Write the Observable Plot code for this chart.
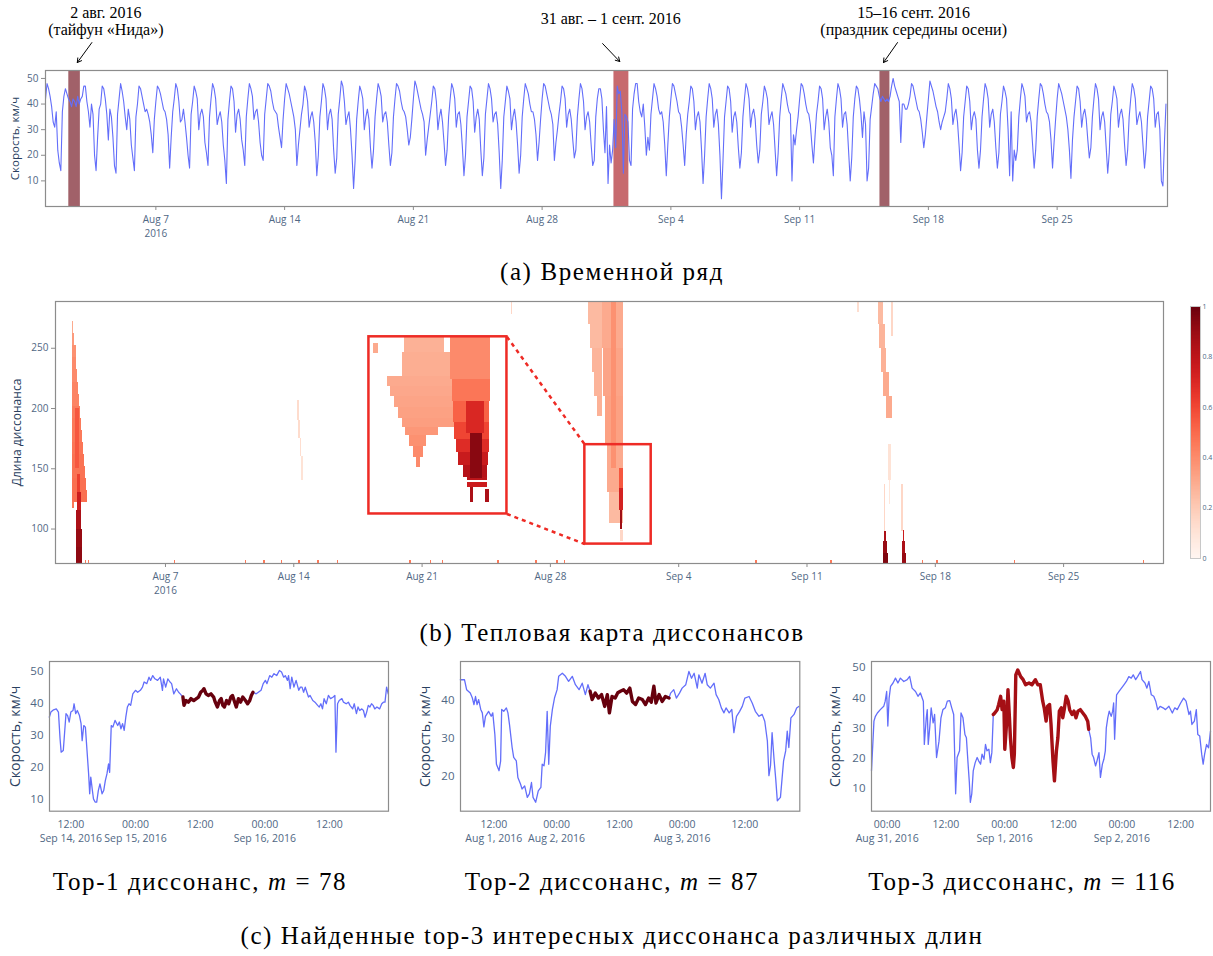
<!DOCTYPE html>
<html><head><meta charset="utf-8">
<script src="https://cdn.jsdelivr.net/npm/d3@7"></script>
<script src="https://cdn.jsdelivr.net/npm/@observablehq/plot@0.6"></script>
<style>
body{margin:0;background:#fff;}
#fig{position:relative;width:1213px;height:956px;overflow:hidden;font-family:"Open Sans",sans-serif;background:#fff;}
.cap{position:absolute;font-family:"Liberation Serif",serif;font-size:25px;letter-spacing:1.6px;color:#000;white-space:nowrap;transform:translate(-50%,-50%);}
</style></head>
<body><div id="fig"></div>
<script>
// ---------------- DATA ----------------
// Time series (a): average speed, km/h, every 2 hours (00,02,...,22h), Aug 1 – Sep 30 2016
const seriesStart = "2016-08-01T00:00Z";
const stepHours = 2;
const speedByDay = [
[42,48,46,43,39,33,31,37,22,17,14,37],[43,46,44,42,41,39,42,41,39,43,40,42],[43,47,47,41,37,31,40,36,20,14,27,38],
[40,47,46,42,36,26,38,35,27,16,13,36],[42,48,45,41,35,30,38,34,24,19,14,35],[40,47,46,43,40,37,38,36,33,28,21,34],
[41,47,46,44,41,38,37,34,28,15,27,37],[42,48,46,41,33,34,38,33,27,20,15,36],[41,47,45,42,30,36,38,35,25,21,16,35],
[42,48,46,42,32,35,37,33,24,18,9,34],[41,47,46,41,29,36,38,34,26,22,16,35],[42,48,46,43,34,37,38,33,25,20,18,36],
[42,48,47,45,41,38,37,36,31,27,23,34],[42,48,46,44,41,38,35,30,16,24,30,36],[40,47,45,41,31,35,37,33,25,12,20,35],
[41,48,46,42,30,36,38,34,22,13,19,36],[42,49,47,41,32,35,37,30,20,7,18,34],[41,47,45,42,30,35,38,34,23,15,22,35],
[42,48,46,43,33,36,37,33,24,16,21,35],[42,48,47,45,41,38,37,35,30,24,27,34],[42,49,47,44,41,38,36,33,20,26,31,36],
[41,47,46,41,30,35,38,33,25,16,22,35],[42,48,46,42,31,36,37,32,23,12,20,35],[41,47,46,41,29,35,38,34,22,12,19,36],
[42,48,46,42,33,36,37,32,21,7,18,35],[41,47,45,42,30,35,38,33,24,13,20,35],[42,48,46,44,40,37,37,34,28,18,25,34],
[42,48,47,44,41,38,36,32,18,25,30,36],[41,47,46,42,31,36,38,34,26,19,22,35],[42,48,46,41,30,35,37,33,24,16,18,35],
[42,46,46,42,30,21,39,9,24,17,22,34],
[23,47,44,45,37,13,36,35,33,18,16,38],[44,48,48,41,37,35,40,31,20,27,22,36],[42,48,46,43,38,36,37,33,24,12,24,35],
[42,48,47,44,41,37,36,31,24,16,28,36],[41,47,46,41,30,35,37,33,22,9,20,35],[42,48,46,42,31,36,38,32,20,3,18,35],
[41,47,46,41,29,35,37,33,23,15,21,35],[42,48,46,42,31,36,38,34,24,17,22,36],[41,47,45,42,32,35,37,32,22,12,21,35],
[42,48,46,44,40,37,36,10,28,24,30,35],[42,48,47,44,40,37,36,32,24,17,27,36],[41,47,46,42,30,35,38,33,23,20,12,35],
[42,48,46,42,31,36,37,32,21,10,19,35],[42,47,46,42,36,27,37,32,10,15,34,39],[44,48,47,46,43,41,43,42,41,42,41,43],
[47,50,47,45,43,41,25,40,40,38,38,40],[43,48,47,44,41,38,37,34,29,23,28,35],[42,49,47,45,42,39,37,33,30,33,35,37],
[42,48,46,42,32,36,38,33,24,14,21,35],[41,47,46,41,30,35,37,34,22,15,22,35],[42,48,46,42,31,36,38,33,23,15,21,36],
[41,47,45,42,30,12,37,10,22,18,22,35],[42,48,46,43,33,36,37,33,24,15,22,35],[42,48,47,44,40,37,36,33,26,15,25,34],
[42,48,46,44,41,38,35,30,22,11,26,35],[41,47,46,41,31,36,38,34,26,19,23,35],[42,48,46,42,30,35,37,33,23,13,21,36],
[41,47,45,42,31,36,38,34,24,16,22,35],[42,48,46,42,32,35,37,33,24,15,22,35],[41,47,46,42,31,36,37,30,10,8,25,40]
];
const dateTicks = ["2016-08-07","2016-08-14","2016-08-21","2016-08-28","2016-09-04","2016-09-11","2016-09-18","2016-09-25"];

// Discords
const discordName = ["Top-1","Top-2","Top-3"];
const discordM = [78, 87, 116];
const discordStart = ["2016-09-15T08:48Z","2016-08-02T06:24Z","2016-08-31T21:42Z"];
const discordEnd   = ["2016-09-15T21:48Z","2016-08-02T21:30Z","2016-09-01T17:12Z"];
const discordColor = ["#67000d","#67000d","#a50f15"];

// Annotations above (a)
const annText = ["2 авг. 2016\n(тайфун «Нида»)", "31 авг. – 1 сент. 2016", "15–16 сент. 2016\n(праздник середины осени)"];
const annDay = [3.28, 30.73, 47.2];
const annVal = [72.4, 73.3, 72.4];
const arrowFrom = [[2.52,64],[30.29,63.6],[46.32,64]];
const arrowTo = [[1.73,56.2],[31.22,56.6],[45.56,56.2]];

// Heatmap (b): cells [len1, len2, day1, day2, value], day = days since Aug 1 2016
const streakAug1 = [
[262,272,0.95,1.00,0.30],[252,262,0.95,1.06,0.35],[242,252,0.95,1.12,0.38],[232,242,0.95,1.17,0.40],
[222,232,0.95,1.22,0.40],[212,222,0.95,1.27,0.42],[202,212,0.95,1.32,0.42],[192,202,0.95,1.38,0.44],
[182,192,0.95,1.43,0.45],[172,182,0.95,1.49,0.45],[162,172,0.95,1.55,0.46],[152,162,0.95,1.60,0.47],
[142,152,0.95,1.66,0.47],[132,142,0.95,1.71,0.48],[122,132,0.95,1.77,0.48],[117,122,0.95,1.05,0.45],
[150,200,1.10,1.30,0.55],
[130,145,1.20,1.38,0.62],[115,130,1.18,1.40,0.75],[100,115,1.16,1.42,0.85],[85,100,1.15,1.45,0.90],[71.4,85,1.12,1.50,0.92]
];
const streakAug14 = [[190,207,13.20,13.30,0.13],[175,190,13.27,13.37,0.13],[160,175,13.34,13.44,0.12],[140,160,13.42,13.54,0.10],[278,289,24.88,24.96,0.15]];
const streakAug31 = [
[270,289,29.09,29.84,0.25],[250,270,29.20,29.84,0.25],[230,250,29.30,29.84,0.27],[210,230,29.42,29.84,0.27],[193,210,29.55,29.84,0.28],
[250,289,29.84,30.98,0.30],[210,250,29.90,30.98,0.32],[170,210,30.00,30.98,0.33],[130,170,30.10,30.98,0.30],[105,130,30.22,30.98,0.25],
[150,289,30.35,30.62,0.38],
[134,150,30.75,30.98,0.55],[115,134,30.78,30.98,0.72],[100,115,30.80,30.96,0.88],[90,99,30.85,30.98,0.15]
];
const streakSep15 = [
[270,289,44.90,45.20,0.25],[250,270,44.98,45.28,0.27],[230,250,45.05,45.36,0.28],[210,230,45.15,45.48,0.30],[192,210,45.35,45.65,0.30],
[260,289,45.62,45.72,0.15],[280,289,43.78,43.84,0.12],
[140,170,45.45,45.60,0.10],[120,140,45.50,45.58,0.08],[97,137,45.22,45.30,0.15],
[90,98,45.22,45.36,0.85],[80,90,45.20,45.40,0.90],[71.4,80,45.18,45.45,0.95],
[98,137,46.16,46.26,0.15],[90,99,46.24,46.34,0.75],[80,90,46.22,46.38,0.85],[71.4,80,46.20,46.45,0.90]
];
const fleckDays = [1.66,1.82,6.52,10.38,11.39,12.37,13.31,14.35,15.4,19.36,20.5,21.14,24.16,26.25,27.4,27.8,38.25,42.34,47.34,48.13,52.34,59.38];
const fleckVal = 0.45;
// zoomed region and enlarged inset (main coordinates)
const boxDays = [28.88, 32.5], boxLens = [87.5, 170];
const insetDays = [17.1, 24.63], insetLens = [112.5, 259.5];
// inset cells, in coordinates of the zoomed box
const insetCells = [
[162.5,169.5,29.82,30.87,0.28],[151.5,162.5,29.77,31.07,0.29],[162,167,29.01,29.12,0.30],
[147,151.5,29.36,31.07,0.30],[142,147,29.45,31.08,0.31],[137,142,29.55,31.09,0.32],[132,137,29.65,31.10,0.33],
[128,132,29.75,31.12,0.34],[124,128,29.85,30.70,0.36],[119,124,29.95,30.40,0.38],[114,119,30.05,30.30,0.40],[109,114,30.12,30.22,0.40],
[150,169.5,31.02,32.07,0.40],[140,150,31.08,32.06,0.46],[130,140,31.10,32.05,0.52],[122,130,31.13,32.04,0.60],
[116,122,31.17,32.03,0.68],[110,116,31.22,32.02,0.76],[104.4,110,31.35,32.00,0.82],[102.9,104.4,31.47,32.00,0.80],
[125,140,31.45,31.90,0.70],[104,125,31.55,31.87,0.93],
[99.8,102.1,31.47,32.00,0.75],[92.8,99.8,31.55,31.61,0.85],[92.8,99,31.93,32.03,0.85]
];

// Panels (c): [hours since base, speed]
const p1Base = "2016-09-14T00:00Z";
const p1 = [[8.0,35.6],[8.3,37.2],[8.8,37.9],[9.3,38.2],[9.7,37.2],[10.0,28.9],[10.2,24.7],[10.6,25.2],[11.1,36.7],[11.4,36.1],[11.7,34.1],[12.0,37.2],[12.4,37.7],[12.6,39.8],[12.9,36.7],[13.2,37.7],[13.6,36.1],[13.9,33.6],[14.1,28.3],[14.4,33.0],[14.7,32.5],[15.0,25.2],[15.3,17.9],[15.5,11.7],[15.7,16.9],[16.0,12.7],[16.2,10.1],[16.5,9.1],[16.8,9.1],[17.1,12.7],[17.4,14.8],[17.8,11.7],[18.1,12.7],[18.4,15.8],[18.7,17.9],[19.0,21.0],[19.2,18.4],[19.5,33.0],[19.8,32.5],[20.2,34.6],[20.7,33.0],[21.0,34.1],[21.3,32.0],[21.6,33.6],[21.9,31.5],[22.2,35.6],[22.5,38.8],[22.8,39.8],[23.1,39.3],[23.5,42.9],[24.0,44.0],[24.4,43.4],[24.9,44.0],[25.3,45.0],[25.6,46.6],[26.1,46.1],[26.5,48.1],[26.8,47.1],[27.2,48.6],[27.6,47.6],[28.1,47.1],[28.6,48.1],[29.0,44.0],[29.2,47.6],[29.6,45.0],[30.0,47.6],[30.4,46.6],[30.7,46.1],[31.1,42.9],[31.6,44.5],[32.0,43.4],[32.3,42.9],[32.8,41.9],
[33.0,39.3],[33.4,40.8],[33.8,40.3],[34.3,41.4],[34.8,40.8],[35.3,41.4],[35.7,41.9],[36.1,43.4],[36.5,44.0],[36.7,44.5],[37.1,42.9],[37.5,42.4],[38.0,42.9],[38.5,41.9],[38.8,40.3],[39.2,38.8],[39.6,40.8],[39.9,41.4],[40.2,39.3],[40.5,38.8],[40.9,40.8],[41.3,39.8],[41.7,41.9],[42.0,42.4],[42.3,40.8],[42.7,38.8],[43.1,41.4],[43.5,40.3],[43.9,41.9],[44.4,40.8],[44.8,39.8],[45.2,40.8],[45.5,42.4],[45.8,43.4],
[46.4,42.9],[46.8,43.4],[47.3,44.0],[47.7,46.1],[48.1,47.1],[48.4,46.1],[48.9,48.6],[49.3,48.1],[49.7,49.2],[50.2,48.6],[50.7,50.2],[51.1,49.7],[51.5,48.1],[51.8,48.6],[52.2,47.1],[52.4,48.6],[52.7,44.5],[53.0,48.1],[53.4,45.0],[53.8,47.1],[54.3,44.0],[54.6,45.0],[54.9,45.0],[55.2,43.4],[55.5,45.0],[55.8,43.4],[56.1,41.9],[56.4,42.4],[56.9,40.8],[57.3,40.3],[57.8,39.3],[58.1,38.8],[58.4,39.8],[58.7,38.2],[59.0,41.4],[59.4,39.8],[59.8,42.4],[60.2,41.4],[60.7,41.9],[61.0,42.4],[61.2,24.7],[61.5,39.8],[61.8,40.8],[62.3,41.4],[62.6,40.3],[63.1,39.8],[63.5,40.3],[63.8,39.3],[64.3,38.2],[64.6,39.8],[65.0,36.7],[65.3,38.8],[65.6,37.7],[66.0,38.2],[66.3,37.7],[66.6,35.6],[66.9,37.2],[67.2,39.3],[67.5,38.8],[67.8,39.8],[68.1,39.3],[68.4,38.2],[68.8,38.8],[69.3,38.2],[69.7,39.8],[70.0,40.3],[70.3,40.3],[70.6,45.0],[70.9,42.9]];
const p2Base = "2016-08-01T00:00Z";
const p2 = [[5.6,45.4],[6.4,45.4],[6.8,42.8],[7.5,41.9],[7.9,40.6],[8.2,38.9],[8.5,41.0],[8.8,38.9],[9.1,40.2],[9.5,37.6],[9.8,36.7],[10.1,33.0],[10.4,35.8],[11.0,37.1],[11.5,35.8],[11.8,36.7],[12.2,31.0],[12.5,23.2],[13.0,21.5],[13.3,24.0],[13.5,37.6],[13.9,37.1],[14.4,38.0],[14.7,36.7],[15.0,33.6],[15.5,27.6],[15.8,25.0],[16.3,24.1],[16.6,19.7],[17.1,18.0],[17.4,16.7],[17.9,17.5],[18.4,14.5],[18.8,15.4],[19.2,18.4],[19.5,14.5],[20.0,13.2],[20.5,16.2],[21.0,17.1],[21.25,23.2],[21.6,22.8],[21.9,26.3],[22.2,37.1],[22.5,23.2],[22.8,33.2],[23.2,37.6],[23.6,40.6],[24.1,42.8],[24.4,46.3],[25.1,47.1],[25.7,46.3],[26.3,45.0],[27.0,46.3],[27.6,44.1],[28.3,42.8],[28.9,44.5],[29.5,41.5],[30.0,44.1],
[30.4,42.4],[30.8,40.2],[31.4,41.9],[32.0,40.6],[32.6,41.5],[33.2,38.4],[33.7,41.5],[34.1,36.7],[34.6,41.0],[35.2,40.6],[35.7,42.0],[36.2,42.4],[36.8,42.8],[37.4,41.9],[38.0,43.2],[38.5,39.7],[39.1,38.9],[39.7,40.6],[40.4,40.2],[41.0,38.9],[41.6,40.6],[42.1,39.5],[42.6,43.7],[43.0,39.3],[43.6,41.5],[44.2,39.7],[44.8,41.0],[45.5,40.6],
[45.8,41.9],[46.4,42.8],[46.9,40.6],[47.5,41.9],[48.0,43.2],[48.7,44.1],[49.3,47.6],[49.8,45.8],[50.3,47.1],[50.9,43.2],[51.2,46.7],[51.8,44.5],[52.4,47.1],[52.8,44.1],[53.4,43.2],[54.1,44.5],[54.5,41.5],[55.0,40.2],[55.5,38.0],[56.0,36.7],[56.4,38.0],[57.0,36.7],[57.5,37.6],[57.9,31.5],[58.4,35.8],[59.0,37.1],[59.5,38.4],[60.0,40.6],[60.8,41.0],[61.4,39.3],[62.0,37.1],[62.7,35.8],[63.3,36.3],[63.8,34.5],[64.3,29.3],[64.6,20.2],[64.9,22.8],[65.2,31.5],[65.6,24.1],[65.9,19.3],[66.2,13.6],[66.8,14.5],[67.1,19.3],[67.4,24.1],[67.8,26.7],[68.1,31.9],[68.4,27.6],[68.8,35.4],[69.4,36.3],[69.9,38.0],[70.3,38.4]];
const p3Base = "2016-08-31T00:00Z";
const p3 = [[-3.2,15.9],[-3.0,22.5],[-2.7,32.3],[-2.4,33.9],[-2.0,35.0],[-1.4,36.1],[-0.7,37.2],[-0.4,38.9],[-0.1,42.1],[0.14,30.7],[0.4,39.9],[0.7,43.8],[1.2,44.9],[1.7,46.5],[2.2,44.9],[2.7,46.5],[3.4,45.4],[4.1,46.0],[4.6,47.1],[5.1,43.2],[5.8,42.1],[6.3,40.5],[6.8,41.6],[7.4,38.9],[7.6,24.6],[8.0,33.4],[8.2,36.1],[8.4,24.6],[8.7,30.1],[9.0,36.7],[9.4,31.7],[9.7,34.5],[10.1,20.3],[10.6,25.7],[11.0,33.4],[11.4,36.1],[11.9,36.7],[12.3,38.9],[12.8,39.1],[13.2,36.7],[13.6,34.5],[14.0,8.3],[14.3,20.3],[14.8,22.5],[15.1,35.0],[15.5,33.4],[15.9,27.9],[16.2,26.8],[16.5,19.2],[16.8,12.1],[17.0,5.5],[17.3,8.3],[17.6,15.9],[18.0,18.6],[18.4,20.3],[18.7,19.2],[19.1,18.1],[19.4,21.4],[19.8,19.7],[20.1,24.6],[20.4,22.5],[20.8,23.0],[21.1,18.6],[21.4,21.9],[21.7,34.5],
[22.0,35.0],[22.5,36.1],[22.8,37.8],[23.2,40.5],[23.5,36.1],[23.85,38.9],[24.05,23.0],[24.4,31.2],[24.7,42.7],[25.0,33.4],[25.2,26.8],[25.5,20.3],[25.8,17.0],[26.0,21.4],[26.3,47.6],[26.7,49.2],[27.3,47.0],[27.8,46.0],[28.3,44.3],[29.0,44.9],[29.6,44.3],[30.3,46.0],[30.8,44.3],[31.3,44.3],[31.8,38.9],[32.1,36.7],[32.5,32.3],[32.8,37.2],[33.2,37.8],[33.5,31.2],[33.9,19.2],[34.2,12.6],[34.6,22.5],[34.9,26.8],[35.2,35.6],[35.6,36.7],[35.9,33.4],[36.2,36.1],[36.6,40.5],[37.0,38.9],[37.3,36.1],[37.8,34.5],[38.2,35.6],[38.6,33.4],[39.0,35.6],[39.5,36.1],[40.0,35.0],[40.5,33.9],[41.0,32.3],[41.2,29.6],
[41.6,26.8],[41.9,21.4],[42.2,20.3],[42.6,17.5],[42.9,19.2],[43.3,21.9],[43.6,13.7],[44.0,18.1],[44.3,19.7],[44.6,22.5],[44.8,30.1],[45.1,33.4],[45.4,35.6],[45.8,33.9],[46.1,35.6],[46.3,38.3],[46.5,26.3],[46.9,41.0],[47.4,42.1],[47.9,43.2],[48.4,44.3],[48.9,45.4],[49.4,47.0],[49.9,46.5],[50.3,47.6],[50.8,46.0],[51.2,47.0],[51.8,48.7],[52.1,46.0],[52.7,44.9],[53.1,43.2],[53.5,45.4],[54.0,41.0],[54.5,40.5],[54.9,38.9],[55.3,36.1],[55.8,37.2],[56.4,36.7],[56.9,36.1],[57.6,37.2],[58.3,35.0],[58.8,36.7],[59.3,36.1],[60.0,38.3],[60.6,39.9],[61.1,38.9],[61.7,34.5],[62.0,35.6],[62.3,31.2],[62.8,32.3],[63.2,36.1],[63.5,27.9],[63.9,27.4],[64.3,21.4],[64.6,18.1],[64.9,21.4],[65.3,24.6],[65.7,23.5],[66.1,29.0]];

const captionTexts = ["(a) Временной ряд", "(b) Тепловая карта диссонансов", "(c) Найденные top-3 интересных диссонанса различных длин"];

// ---------------- HELPERS ----------------
const HOUR = 3600e3, DAY = 86400e3;
const T0 = new Date(seriesStart).getTime();
const dayDate = d => new Date(T0 + d * DAY);
const fig = document.getElementById("fig");
const TICK = "#506784", TITLE = "#2a3f5f", FRAME = "#8c8c8c", BLUE = "#636efa";
const baseStyle = {background: "transparent", fontFamily: "Open Sans", overflow: "visible"};

function place(node, left, top) {
  const w = document.createElement("div");
  w.style.cssText = `position:absolute;left:${left}px;top:${top}px;`;
  w.appendChild(node);
  fig.appendChild(w);
}
function caption(html, cx, cy) {
  const d = document.createElement("div");
  d.className = "cap"; d.innerHTML = html;
  d.style.left = cx + "px"; d.style.top = cy + "px";
  fig.appendChild(d);
}
const ticksD = dateTicks.map(s => new Date(s + "T00:00Z"));
const fmtDay = d3.utcFormat("%b %-d");
const dayTick = d => +d === +ticksD[0] ? fmtDay(d) + "\n2016" : fmtDay(d);
const yTitle = (text, dx, size) => Plot.text([text], {frameAnchor: "left", textAnchor: "middle", rotate: -90, dx, fontSize: size, fill: TITLE});

// ---------------- (a) TIME SERIES ----------------
const series = speedByDay.flatMap((row, d) => row.map((v, k) => ({t: new Date(T0 + d * DAY + k * stepHours * HOUR), v})));
const bands = discordStart.map((s, i) => ({x1: new Date(s), x2: new Date(discordEnd[i]), c: discordColor[i]}));
const ann = annText.map((t, i) => ({t, x: dayDate(annDay[i]), y: annVal[i]}));
const arrows = arrowFrom.map((f, i) => ({x1: dayDate(f[0]), y1: f[1], x2: dayDate(arrowTo[i][0]), y2: arrowTo[i][1]}));

const topPlot = Plot.plot({
  width: 1213, height: 240, marginLeft: 45, marginRight: 46, marginTop: 70, marginBottom: 34,
  style: baseStyle,
  x: {type: "utc", domain: [dayDate(0), dayDate(61)]},
  y: {domain: [0, 53.1]},
  color: {type: "identity"},
  marks: [
    Plot.rect(bands, {x1: "x1", x2: "x2", fill: "c", fillOpacity: 0.62}),
    Plot.line(series, {x: "t", y: "v", stroke: BLUE, strokeWidth: 1.1}),
    Plot.frame({stroke: FRAME, strokeWidth: 1.2}),
    Plot.axisX({ticks: ticksD, tickFormat: dayTick, tickSize: 4, tickPadding: 3, fontSize: 10, lineHeight: 1.35, fill: TICK, stroke: FRAME, label: null}),
    Plot.axisY({ticks: [10, 20, 30, 40, 50], tickSize: 4, tickPadding: 3, fontSize: 10, fill: TICK, stroke: FRAME, label: null}),
    yTitle("Скорость, км/ч", -30, 11.5),
    Plot.text(ann, {x: "x", y: "y", text: "t", fontFamily: "Liberation Serif", fontSize: 16, fill: "#000", lineHeight: 1.06}),
    Plot.arrow(arrows, {x1: "x1", y1: "y1", x2: "x2", y2: "y2", stroke: "#000", strokeWidth: 1, headLength: 7})
  ]
});
place(topPlot, 0, 0);
caption(captionTexts[0], 612, 272);

// ---------------- (b) HEATMAP ----------------
const mainCells = [...streakAug1, ...streakAug14, ...streakAug31, ...streakSep15];
const flecks = fleckDays.map(d => [71.4, 73.6, d - 0.04, d + 0.04, fleckVal]);
const mapDay = d3.scaleLinear(boxDays, insetDays), mapLen = d3.scaleLinear(boxLens, insetLens);
const insetMapped = insetCells.map(r => [mapLen(r[0]), mapLen(r[1]), mapDay(r[2]), mapDay(r[3]), r[4]]);
const frames = [
  {x1: dayDate(boxDays[0]), x2: dayDate(boxDays[1]), y1: boxLens[0], y2: boxLens[1]},
  {x1: dayDate(insetDays[0]), x2: dayDate(insetDays[1]), y1: insetLens[0], y2: insetLens[1]}
];
const links = [
  {x1: dayDate(insetDays[1]), y1: insetLens[1], x2: dayDate(boxDays[0]), y2: boxLens[1]},
  {x1: dayDate(insetDays[1]), y1: insetLens[0], x2: dayDate(boxDays[0]), y2: boxLens[0]}
];
const cellOpts = {x1: r => dayDate(r[2]), x2: r => dayDate(r[3]), y1: r => r[0], y2: r => r[1], fill: r => r[4], shapeRendering: "crispEdges"};
const RED = "#ee2b25";
const heatPlot = Plot.plot({
  width: 1213, height: 310, marginLeft: 55, marginRight: 50, marginTop: 11, marginBottom: 37,
  style: baseStyle,
  x: {type: "utc", domain: [dayDate(0), dayDate(60.45)]},
  y: {domain: [71.4, 288.8]},
  color: {type: "linear", scheme: "reds", domain: [0, 1]},
  marks: [
    Plot.rect(mainCells, cellOpts),
    Plot.rect(flecks, cellOpts),
    Plot.rect([frames[1]], {x1: "x1", x2: "x2", y1: "y1", y2: "y2", fill: "white"}),
    Plot.rect(insetMapped, cellOpts),
    Plot.link(links, {x1: "x1", y1: "y1", x2: "x2", y2: "y2", stroke: RED, strokeWidth: 2.5, strokeDasharray: "4 4"}),
    Plot.rect(frames, {x1: "x1", x2: "x2", y1: "y1", y2: "y2", fill: "none", stroke: RED, strokeWidth: 2.5}),
    Plot.frame({stroke: FRAME, strokeWidth: 1.2}),
    Plot.axisX({ticks: ticksD, tickFormat: dayTick, tickSize: 4, tickPadding: 3, fontSize: 10, lineHeight: 1.35, fill: TICK, stroke: FRAME, label: null}),
    Plot.axisY({ticks: [100, 150, 200, 250], tickSize: 4, tickPadding: 3, fontSize: 10, fill: TICK, stroke: FRAME, label: null}),
    yTitle("Длина диссонанса", -38, 12)
  ]
});
place(heatPlot, 0, 290);

// colour bar
const cbStops = d3.range(0, 1, 0.005);
const cbPlot = Plot.plot({
  width: 27, height: 264, marginLeft: 4, marginRight: 13, marginTop: 6, marginBottom: 6,
  style: baseStyle,
  x: {domain: [0, 1], axis: null},
  y: {domain: [0, 1]},
  color: {type: "linear", scheme: "reds", domain: [0, 1]},
  marks: [
    Plot.rect(cbStops, {x1: 0, x2: 1, y1: d => d, y2: d => d + 0.0055, fill: d => d, shapeRendering: "crispEdges"}),
    Plot.frame({stroke: "#c8c8c8", strokeWidth: 1}),
    Plot.axisY({anchor: "right", ticks: [0, 0.2, 0.4, 0.6, 0.8, 1], tickFormat: d => String(+d.toFixed(1)), tickSize: 0, tickPadding: 2, fontSize: 7, fill: TICK, label: null})
  ]
});
place(cbPlot, 1186, 300);
caption(captionTexts[1], 612, 633);

// ---------------- (c) PANELS ----------------
const fmtTime = d3.utcFormat("%H:%M"), fmtDate = d3.utcFormat("%b %-d, %Y");
function panel(pts, baseStr, k, hDomain, yDomain, yTicks, tickHours, layout) {
  const base = new Date(baseStr).getTime();
  const data = pts.map(([h, v]) => ({t: new Date(base + h * HOUR), v}));
  const s = new Date(discordStart[k]), e = new Date(discordEnd[k]);
  const hi = data.filter(d => d.t >= s && d.t <= e);
  const ticks = tickHours.map(h => new Date(base + h * HOUR));
  const fmt = d => (+d === +ticks[0] || d.getUTCHours() === 0) ? fmtTime(d) + "\n" + fmtDate(d) : fmtTime(d);
  const p = Plot.plot({
    width: layout.w, height: 200, marginLeft: layout.ml, marginRight: layout.mr, marginTop: 11, marginBottom: 39.3,
    style: baseStyle,
    x: {type: "utc", domain: hDomain.map(h => new Date(base + h * HOUR))},
    y: {domain: yDomain},
    marks: [
      Plot.line(data, {x: "t", y: "v", stroke: BLUE, strokeWidth: 1.3}),
      Plot.line(hi, {x: "t", y: "v", stroke: discordColor[k], strokeWidth: 3.4, strokeLinejoin: "round"}),
      Plot.frame({stroke: FRAME, strokeWidth: 1.2}),
      Plot.axisX({ticks, tickFormat: fmt, tickSize: 0, tickPadding: 7, fontSize: 10.5, lineHeight: 1.3, fill: TICK, label: null}),
      Plot.axisY({ticks: yTicks, tickSize: 0, tickPadding: 6, fontSize: 11.5, fill: TICK, label: null}),
      yTitle("Скорость, км/ч", -layout.ml + 15, 14)
    ]
  });
  place(p, layout.left, 650);
  caption(`${discordName[k]} диссонанс, <i>m</i> = ${discordM[k]}`, layout.cap, 882);
}
panel(p1, p1Base, 0, [8.04, 70.95], [6.25, 53.0], [10, 20, 30, 40, 50], [12, 24, 36, 48, 60], {left: 0, w: 410, ml: 49, mr: 22, cap: 200});
panel(p2, p2Base, 1, [5.63, 70.5], [10.86, 50.2], [20, 30, 40], [12, 24, 36, 48, 60], {left: 410, w: 400, ml: 50, mr: 10.7, cap: 612});
panel(p3, p3Base, 2, [-3.2, 66.1], [2.56, 52.0], [10, 20, 30, 40, 50], [0, 12, 24, 36, 48, 60], {left: 820, w: 393, ml: 51, mr: 3, cap: 1022});
caption(captionTexts[2], 612, 936);
</script>
</body></html>
